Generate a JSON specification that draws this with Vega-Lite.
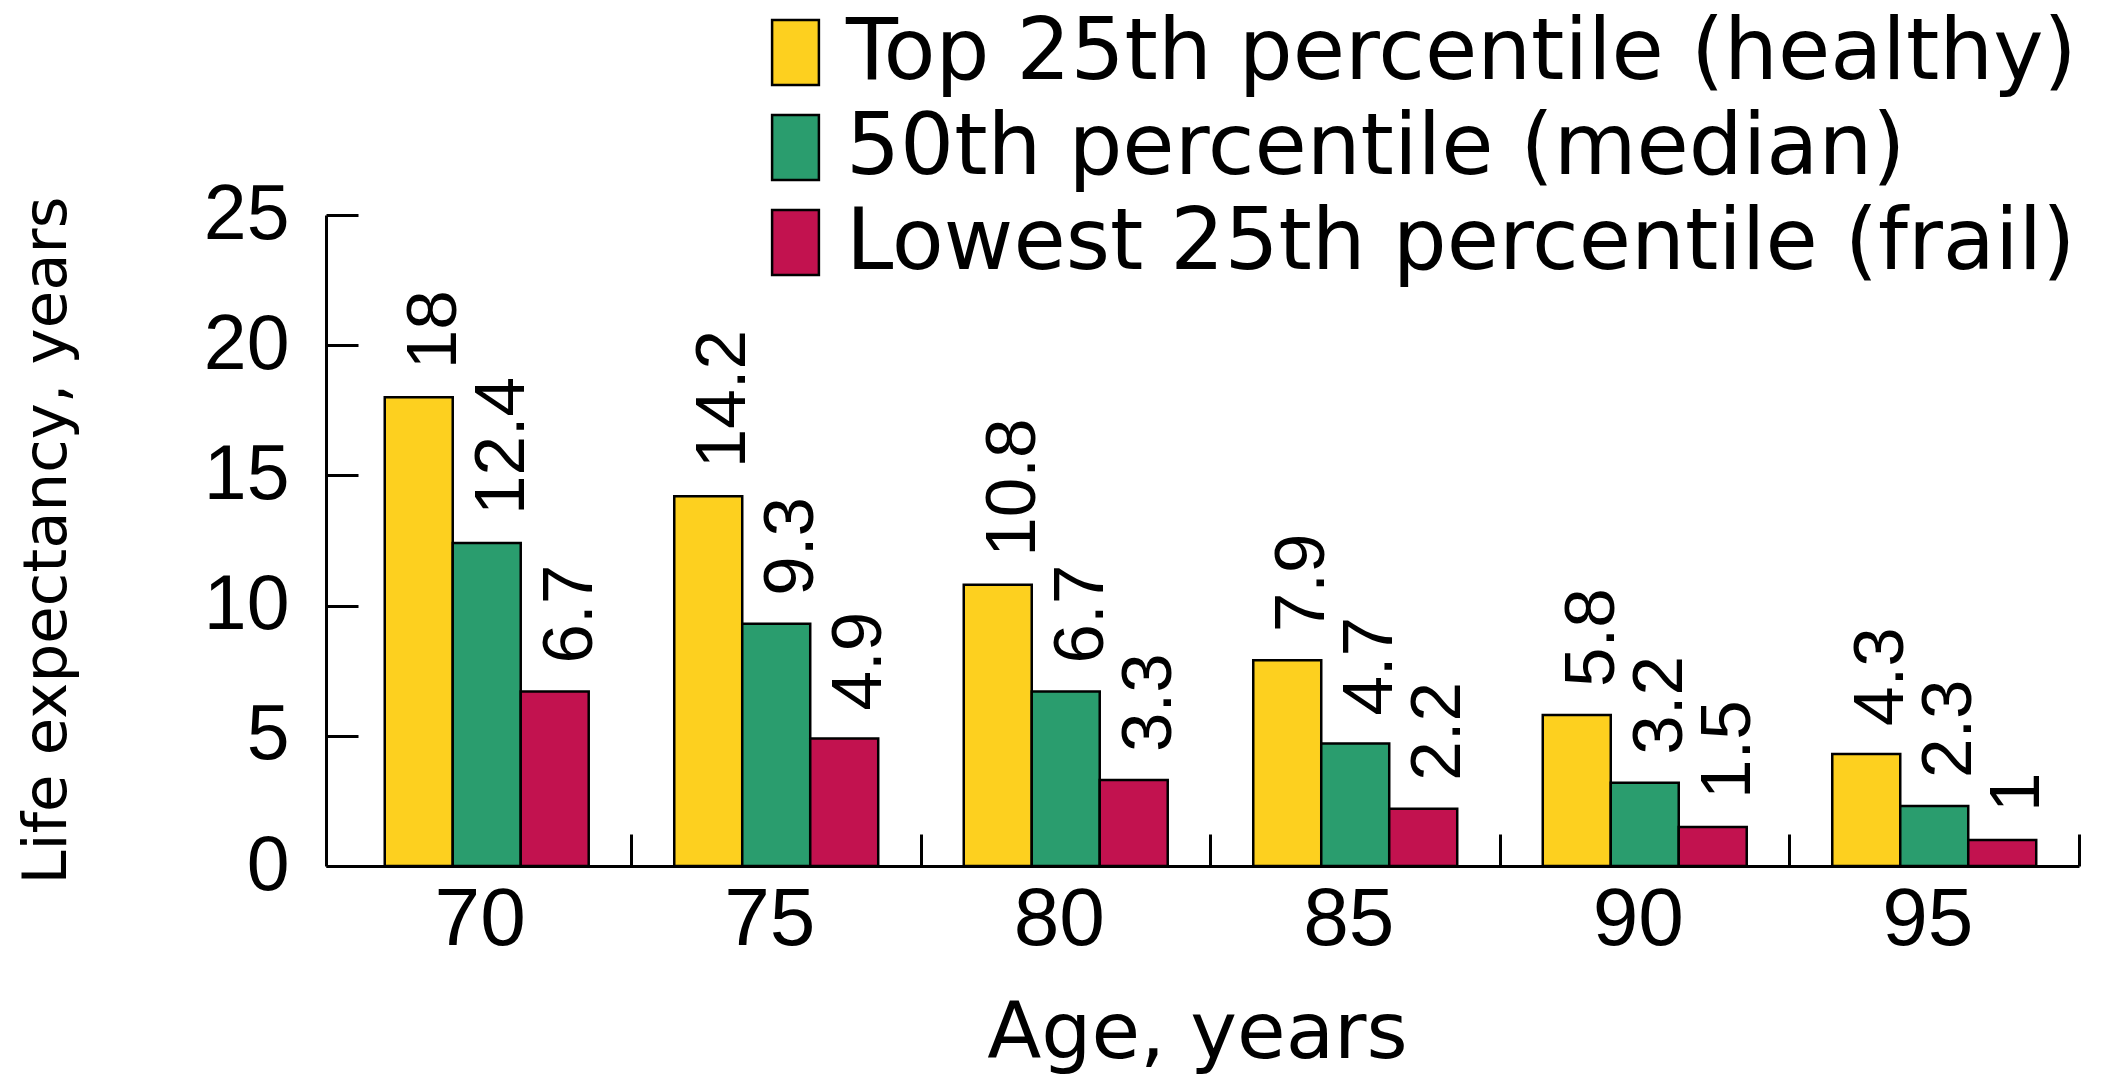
{
  "$schema": "https://vega.github.io/schema/vega-lite/v6.json",
  "width": 1753,
  "height": 651,
  "autosize": {"type": "none"},
  "padding": {"left": 326, "top": 215, "right": 32, "bottom": 215},
  "background": "white",
  "config": {"view": {"stroke": null}, "font": "Liberation Sans"},
  "data": {
    "values": [
      {"age": "70", "group": "Top 25th percentile (healthy)", "value": 18},
      {"age": "70", "group": "50th percentile (median)", "value": 12.4},
      {"age": "70", "group": "Lowest 25th percentile (frail)", "value": 6.7},
      {"age": "75", "group": "Top 25th percentile (healthy)", "value": 14.2},
      {"age": "75", "group": "50th percentile (median)", "value": 9.3},
      {"age": "75", "group": "Lowest 25th percentile (frail)", "value": 4.9},
      {"age": "80", "group": "Top 25th percentile (healthy)", "value": 10.8},
      {"age": "80", "group": "50th percentile (median)", "value": 6.7},
      {"age": "80", "group": "Lowest 25th percentile (frail)", "value": 3.3},
      {"age": "85", "group": "Top 25th percentile (healthy)", "value": 7.9},
      {"age": "85", "group": "50th percentile (median)", "value": 4.7},
      {"age": "85", "group": "Lowest 25th percentile (frail)", "value": 2.2},
      {"age": "90", "group": "Top 25th percentile (healthy)", "value": 5.8},
      {"age": "90", "group": "50th percentile (median)", "value": 3.2},
      {"age": "90", "group": "Lowest 25th percentile (frail)", "value": 1.5},
      {"age": "95", "group": "Top 25th percentile (healthy)", "value": 4.3},
      {"age": "95", "group": "50th percentile (median)", "value": 2.3},
      {"age": "95", "group": "Lowest 25th percentile (frail)", "value": 1}
    ]
  },
  "encoding": {
    "x": {
      "field": "age",
      "type": "ordinal",
      "scale": {"paddingInner": 0, "paddingOuter": 0.0276, "align": 1},
      "axis": {
        "title": "Age, years",
        "titleFont": "DejaVu Sans",
        "titleFontSize": 79,
        "titleFontWeight": "normal",
        "titleColor": "black",
        "titleBaseline": "alphabetic",
        "titleX": 871,
        "titleY": 191,
        "labelFont": "Liberation Sans",
        "labelFontSize": 82,
        "labelAngle": 0,
        "labelColor": "black",
        "labelPadding": 45,
        "labelOffset": -7,
        "domainColor": "black",
        "domainWidth": 3,
        "tickColor": "black",
        "tickOpacity": {"condition": {"test": "datum.extra", "value": 0}, "value": 1},
        "tickWidth": 3,
        "tickSize": -32,
        "tickBand": "extent",
        "grid": false
      }
    },
    "xOffset": {
      "field": "group",
      "sort": ["Top 25th percentile (healthy)", "50th percentile (median)", "Lowest 25th percentile (frail)"],
      "scale": {"paddingInner": 0, "paddingOuter": 0.629}
    },
    "y": {
      "field": "value",
      "type": "quantitative",
      "scale": {"domain": [0, 25]},
      "axis": {
        "title": "Life expectancy, years",
        "titleFont": "DejaVu Sans",
        "titleFontSize": 61,
        "titleFontWeight": "normal",
        "titleColor": "black",
        "titleAngle": 270,
        "titleAlign": "center",
        "titleBaseline": "middle",
        "titleX": -279,
        "titleY": 325,
        "values": [0, 5, 10, 15, 20, 25],
        "labelFont": "Liberation Sans",
        "labelFontSize": 77,
        "labelColor": "black",
        "labelPadding": 69,
        "domainColor": "black",
        "domainWidth": 3,
        "tickColor": "black",
        "tickWidth": 3,
        "tickSize": -32,
        "grid": false
      }
    }
  },
  "layer": [
    {
      "mark": {"type": "bar", "stroke": "black", "strokeWidth": 2.5},
      "encoding": {
        "color": {
          "field": "group",
          "type": "nominal",
          "sort": ["Top 25th percentile (healthy)", "50th percentile (median)", "Lowest 25th percentile (frail)"],
          "scale": {
            "domain": ["Top 25th percentile (healthy)", "50th percentile (median)", "Lowest 25th percentile (frail)"],
            "range": ["#FDD01F", "#2A9D6E", "#C2124F"]
          },
          "legend": {
            "title": null,
            "orient": "none",
            "legendX": 427,
            "legendY": -205,
            "padding": 0,
            "symbolType": "M-0.72,-1H0.72V1H-0.72Z",
            "symbolSize": 4225,
            "symbolStrokeColor": "black",
            "symbolStrokeWidth": 2.5,
            "symbolOpacity": 1,
            "labelFont": "DejaVu Sans",
            "labelFontSize": 85,
            "labelColor": "black",
            "labelOffset": 8,
            "labelLimit": 3000,
            "rowPadding": 9
          }
        }
      }
    },
    {
      "mark": {
        "type": "text",
        "angle": 270,
        "align": "left",
        "baseline": "middle",
        "dx": 28,
        "dy": 16,
        "fontSize": 71,
        "font": "Liberation Sans",
        "color": "black"
      },
      "encoding": {
        "text": {"field": "value", "type": "quantitative"}
      }
    }
  ]
}
